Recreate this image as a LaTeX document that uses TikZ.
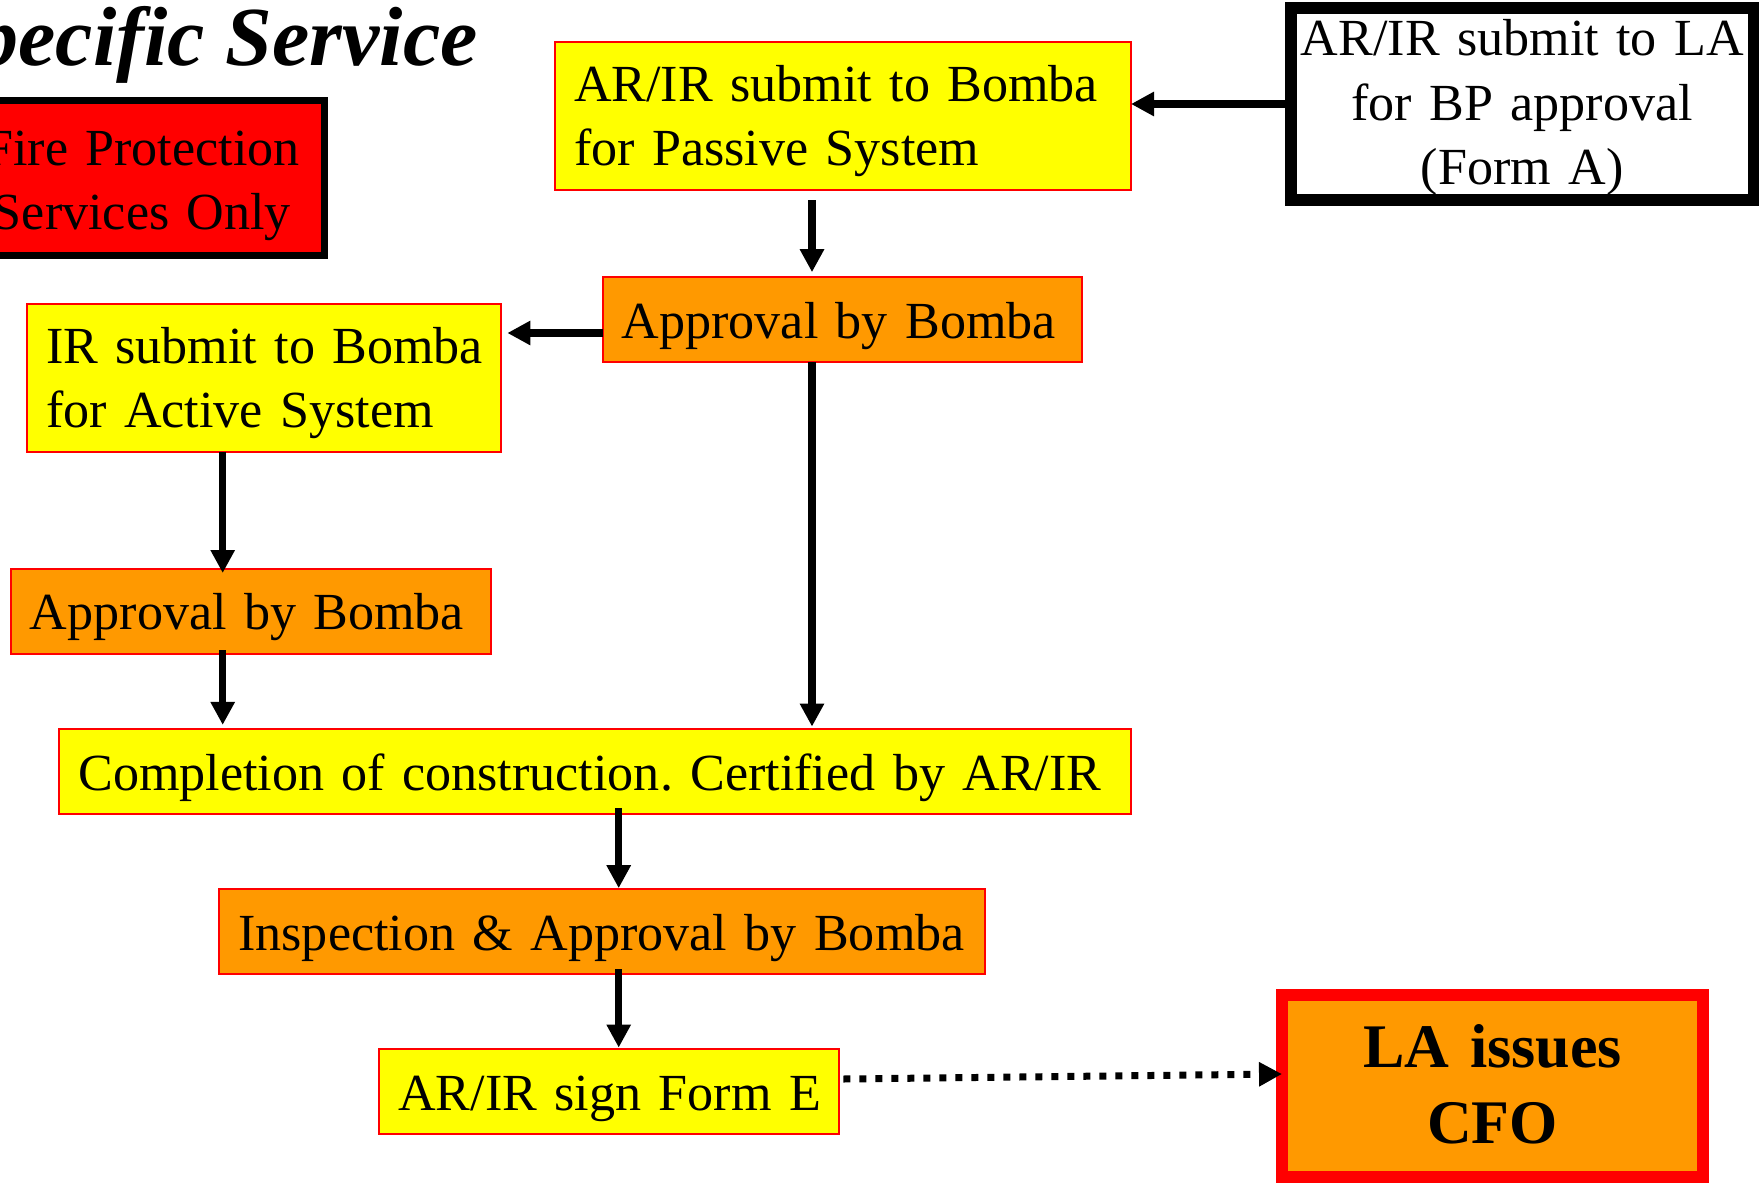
\documentclass[tikz,border=0pt]{standalone}
\usepackage{fontspec}
\setmainfont[Ligatures=CommonOff]{Liberation Serif}
\usetikzlibrary{arrows.meta,calc}
\frenchspacing
\hyphenpenalty=10000
\exhyphenpenalty=10000
\definecolor{pyellow}{HTML}{FFFF00}
\definecolor{porange}{HTML}{FF9900}
\definecolor{pred}{HTML}{FF0000}
\tikzset{
  box/.style={draw=pred, line width=2pt, outer sep=0pt, inner xsep=19pt, inner ysep=0pt,
    align=left, font=\fontsize{52.1}{64}\selectfont},
  ybox/.style={box, fill=pyellow},
  obox/.style={box, fill=porange},
  oneline/.style={text height=36.6pt, text depth=0pt, minimum height=85pt},
  twoline/.style={minimum height=148pt},
  arr/.style={line width=7.5pt, -{Triangle[length=23pt,width=23pt]}},
  dotarr/.style={line width=7pt, dash pattern=on 7pt off 9pt, -{Triangle[length=23pt,width=23pt]}}
}
\begin{document}
\begin{tikzpicture}[x=1pt,y=-1pt]
\useasboundingbox (0,0) rectangle (1759,1183);
% title
\node[anchor=base east, inner sep=0pt, font=\bfseries\itshape\fontsize{84}{100}\selectfont] (title) at (478,65) {Specific Service};
% red label box
\node[draw=black, fill=pred, line width=7.5pt, outer sep=0pt, inner xsep=5pt, inner ysep=0pt,
  text width=355pt, align=center, text height=38pt, text depth=64pt, minimum height=155pt,
  font=\fontsize{52.1}{64}\selectfont] (fp) at (142,178) {\mbox{Fire Protection}\\\mbox{Services Only}};
% black box
\node[draw=black, fill=white, line width=12pt, outer sep=0pt, inner xsep=5pt, inner ysep=0pt,
  text width=452.5pt, align=center, text height=36pt, text depth=134pt, minimum height=192pt,
  font=\fontsize{52.1}{65}\selectfont] (lab) at (1522.25,104) {\mbox{AR/IR submit to LA}\\\mbox{for BP approval}\\\mbox{(Form A)}};
% flow boxes
\node[ybox, twoline, text width=538pt, text height=36pt, text depth=63.6pt] (passive) at (843,115.5)
  {\mbox{AR/IR submit to Bomba}\\\mbox{for Passive System}};
\node[obox, oneline, text width=441.6pt] (appr1) at (842.5,319.7) {\mbox{Approval by Bomba}};
\node[ybox, twoline, text width=436.3pt, text height=36pt, text depth=64.8pt] (active) at (264.2,377.7)
  {\mbox{IR submit to Bomba}\\\mbox{for Active System}};
\node[obox, oneline, text width=441.7pt] (appr2) at (250.8,611.5) {\mbox{Approval by Bomba}};
\node[ybox, oneline, text width=1033.4pt] (compl) at (595,771.7) {\mbox{Completion of construction. Certified by AR/IR}};
\node[obox, oneline, text width=727.4pt] (insp) at (602,931.7) {\mbox{Inspection \& Approval by Bomba}};
\node[ybox, oneline, text width=421.7pt] (formE) at (609.2,1091.7) {\mbox{AR/IR sign Form E}};
% LA box
\node[draw=pred, fill=porange, line width=12pt, outer sep=0pt, inner xsep=5pt, inner ysep=0pt,
  text width=411pt, align=center, text height=40pt, text depth=77.4pt, minimum height=182pt,
  font=\bfseries\fontsize{62}{76}\selectfont] (la) at (1492.5,1086) {\mbox{LA issues}\\\mbox{CFO}};
% helper coordinates
\coordinate (xa) at (812,0);
\coordinate (xb) at (222.7,0);
\coordinate (xc) at (618.7,0);
\coordinate (ay) at ([yshift=-13.3pt]appr1.west);
% connectors
\draw[arr] (lab.west) -- (lab.west -| passive.east);
\draw[arr] ($(passive.south -| xa)+(0,10.5)$) -- ($(appr1.north -| xa)+(0,-5)$);
\draw[arr] (ay) -- ($(ay -| active.east)+(6,0)$);
\draw[arr] (appr1.south -| xa) -- ($(compl.north -| xa)+(0,-2.6)$);
\draw[arr] (active.south -| xb) -- ($(appr2.north -| xb)+(0,4)$);
\draw[arr] ($(appr2.south -| xb)+(0,-4)$) -- ($(compl.north -| xb)+(0,-4.3)$);
\draw[arr] ($(compl.south -| xc)+(0,-6)$) -- ($(insp.north -| xc)+(0,-1)$);
\draw[arr] ($(insp.south -| xc)+(0,-5)$) -- ($(formE.north -| xc)+(0,-1.6)$);
\draw[dotarr] ($(formE.east)+(4.3,-12.7)$) -- ($(la.west)+(0,-12)$);
\end{tikzpicture}
\end{document}
